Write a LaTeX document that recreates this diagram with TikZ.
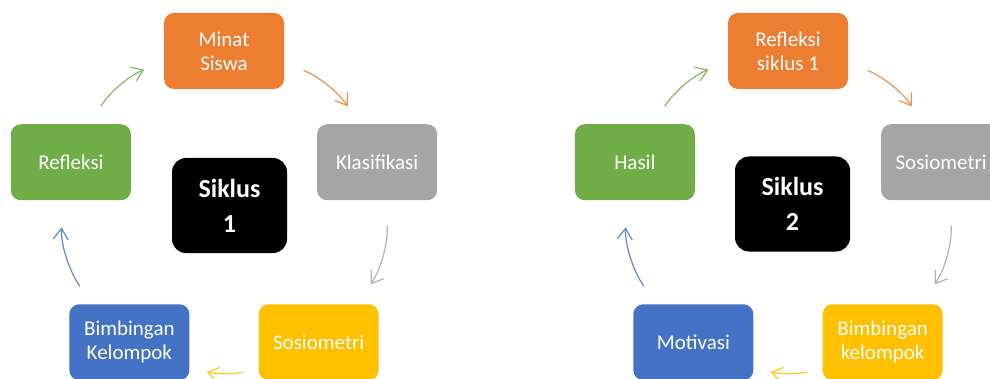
\documentclass[tikz,border=0pt]{standalone}
\usepackage{fontspec}
\setmainfont{Carlito}
\usetikzlibrary{positioning,arrows.meta,calc}
\definecolor{cOrange}{HTML}{ED7D31}
\definecolor{cGray}{HTML}{A5A5A5}
\definecolor{cGreen}{HTML}{70AD47}
\definecolor{cBlue}{HTML}{4472C4}
\definecolor{cYellow}{HTML}{FFC000}

\begin{document}
\begin{tikzpicture}[
  x=1pt, y=1pt,
  box/.style={rounded corners=10pt, align=center, inner sep=0pt, text=white,
    minimum width=120pt, minimum height=76pt, font=\fontsize{21}{24}\selectfont},
  hub/.style={fill=black, rounded corners=14pt, align=center, inner sep=0pt, text=white,
    minimum width=115pt, minimum height=95pt, font=\bfseries\fontsize{26}{35}\selectfont},
  arrow/.style={-{Straight Barb[length=11pt,width=15pt]}, line width=1.2pt},
]
\useasboundingbox (0,0) rectangle (990,378);
\clip (0,0) rectangle (990,378);

% cycle 1
\coordinate (c1) at (224,166);
\node[hub] (siklus1) at (229.5,172.5) {Siklus\\1};
\node[box, fill=cOrange] (minat) at ($(c1)+(90:161pt)$) {Minat\\Siswa};
\node[box, fill=cGray] (klas) at ($(c1)+(18:161pt)$) {Klasifikasi};
\node[box, fill=cYellow] (sosio) at ($(c1)+(-54:161pt)$) {Sosiometri};
\node[box, fill=cBlue] (bimb) at ($(c1)+(-126:161pt)$) {Bimbingan\\Kelompok};
\node[box, fill=cGreen] (refl) at ($(c1)+(162:161pt)$) {Refleksi};

\draw[arrow, cOrange!85, shorten <=21pt, shorten >=21pt] (minat.-11) to[bend left=17.5] (klas.115.6);
\draw[arrow, cGray!85, shorten <=25pt, shorten >=24pt] (klas.-78.7) to[bend left=19.6] (sosio.45.8);
\draw[arrow, cYellow!85, shorten <=15.5pt, shorten >=17.5pt] (sosio.204.2) to[bend left=12.4] (bimb.-23.9);
\draw[arrow, cBlue!85, shorten <=22pt, shorten >=27pt] (bimb.134.2) to[bend left=19.6] (refl.259.4);
\draw[arrow, cGreen!85, shorten <=21pt, shorten >=21pt] (refl.64) to[bend left=17.7] (minat.190.5);

% cycle 2
\coordinate (c2) at (788,166);
\node[hub] (siklus2) at (792.5,174) {Siklus\\2};
\node[box, fill=cOrange] (reflsik) at ($(c2)+(90:161pt)$) {Refleksi\\siklus 1};
\node[box, fill=cGray] (sosiob) at ($(c2)+(18:161pt)$) {Sosiometri};
\node[box, fill=cYellow] (bimbb) at ($(c2)+(-54:161pt)$) {Bimbingan\\kelompok};
\node[box, fill=cBlue] (motiv) at ($(c2)+(-126:161pt)$) {Motivasi};
\node[box, fill=cGreen] (hasil) at ($(c2)+(162:161pt)$) {Hasil};

\draw[arrow, cOrange!85, shorten <=21pt, shorten >=21pt] (reflsik.-11) to[bend left=17.5] (sosiob.115.6);
\draw[arrow, cGray!85, shorten <=25pt, shorten >=24pt] (sosiob.-78.7) to[bend left=19.6] (bimbb.45.8);
\draw[arrow, cYellow!85, shorten <=15.5pt, shorten >=17.5pt] (bimbb.204.2) to[bend left=12.4] (motiv.-23.9);
\draw[arrow, cBlue!85, shorten <=22pt, shorten >=27pt] (motiv.134.2) to[bend left=19.6] (hasil.259.4);
\draw[arrow, cGreen!85, shorten <=21pt, shorten >=21pt] (hasil.64) to[bend left=17.7] (reflsik.190.5);
\end{tikzpicture}
\end{document}
